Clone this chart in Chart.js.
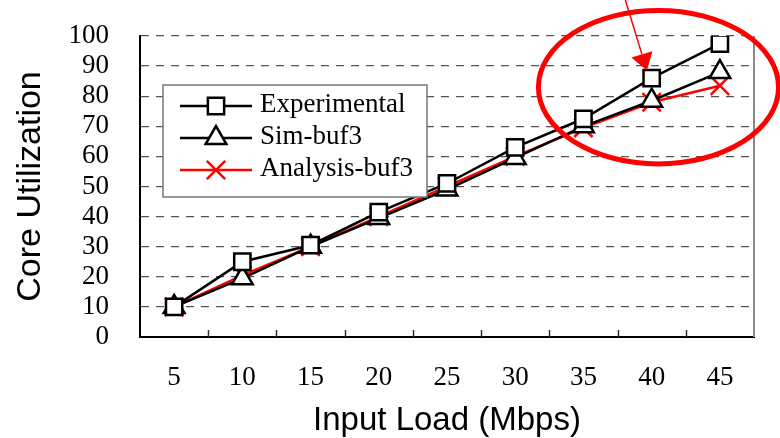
<!DOCTYPE html>
<html>
<head>
<meta charset="utf-8">
<script src="https://cdn.jsdelivr.net/npm/chart.js@4/dist/chart.umd.min.js"></script>
<style>
  html, body { margin: 0; padding: 0; background: #fff; }
  #wrap { width: 780px; height: 438px; position: relative; }
</style>
</head>
<body>
<div id="wrap"><canvas id="c" width="780" height="438"></canvas></div>
<script>
// ---- data ----
const categories = ['5', '10', '15', '20', '25', '30', '35', '40', '45'];
const experimental = [10, 25, 30.5, 41.5, 51, 63, 72.5, 86, 97.5];
const simBuf3 = [10, 19.5, 30, 39.5, 49, 59.5, 70, 78.5, 88];
const analysisBuf3 = [10, 20.5, 30, 40, 50, 60, 69.5, 78, 83.5];
const yTicks = [0, 10, 20, 30, 40, 50, 60, 70, 80, 90, 100];
const seriesNames = ['Experimental', 'Sim-buf3', 'Analysis-buf3'];

const SERIF = '"Liberation Serif", "Times New Roman", serif';
const SANS = '"Liberation Sans", Arial, sans-serif';

// inner tick marks, right border, legend and annotation
const decorPlugin = {
  id: 'decor',
  afterDraw(chart) {
    const ctx = chart.ctx;
    const ca = chart.chartArea;
    const xs = chart.scales.x, ys = chart.scales.y;
    ctx.save();
    // right border
    ctx.strokeStyle = '#888';
    ctx.lineWidth = 2;
    ctx.beginPath();
    ctx.moveTo(ca.right, ca.top);
    ctx.lineTo(ca.right, ca.bottom);
    ctx.stroke();
    // inner ticks at category boundaries
    ctx.strokeStyle = '#333';
    ctx.lineWidth = 1.5;
    for (let i = 1; i < categories.length; i++) {
      const x = Math.round((xs.getPixelForTick(i - 1) + xs.getPixelForTick(i)) / 2) + 0.5;
      ctx.beginPath();
      ctx.moveTo(x, ca.bottom);
      ctx.lineTo(x, ca.bottom - 7);
      ctx.stroke();
    }
    // legend
    const lx = ca.left + 23, ly = ca.top + 49;
    ctx.font = '27px ' + SERIF;
    let maxW = 0;
    seriesNames.forEach(n => { maxW = Math.max(maxW, ctx.measureText(n).width); });
    const boxW = 97 + maxW + 14, boxH = 112;
    ctx.fillStyle = '#fff';
    ctx.fillRect(lx, ly, boxW, boxH);
    ctx.strokeStyle = '#777';
    ctx.lineWidth = 1.5;
    ctx.strokeRect(lx, ly, boxW, boxH);
    chart.data.datasets.forEach((ds, i) => {
      const ry = ly + 21 + i * 32;
      ctx.strokeStyle = ds.borderColor;
      ctx.lineWidth = ds.borderWidth;
      ctx.beginPath();
      ctx.moveTo(lx + 17, ry);
      ctx.lineTo(lx + 89, ry);
      ctx.stroke();
      ctx.fillStyle = ds.pointBackgroundColor;
      ctx.strokeStyle = ds.pointBorderColor;
      ctx.lineWidth = ds.pointBorderWidth;
      Chart.helpers.drawPoint(ctx, {
        pointStyle: ds.pointStyle,
        radius: ds.pointRadius,
        borderWidth: ds.pointBorderWidth,
      }, lx + 53, ry);
      ctx.fillStyle = '#000';
      ctx.font = '27px ' + SERIF;
      ctx.textBaseline = 'middle';
      ctx.textAlign = 'left';
      ctx.fillText(seriesNames[i], lx + 97, ry - 1);
    });
    // annotation ellipse
    const step = xs.getPixelForTick(1) - xs.getPixelForTick(0);
    const unit = ys.getPixelForValue(0) - ys.getPixelForValue(1);
    const cx = xs.getPixelForTick(7) + 0.1 * step;
    const cy = ys.getPixelForValue(83);
    ctx.strokeStyle = '#ff0000';
    ctx.lineWidth = 5;
    ctx.beginPath();
    ctx.ellipse(cx, cy, 1.76 * step, 25.5 * unit, 0, 0, Math.PI * 2);
    ctx.stroke();
    // arrow
    const tipX = xs.getPixelForTick(7) - 0.07 * step;
    const tipY = ys.getPixelForValue(88.5);
    const sx = xs.getPixelForTick(7) - 0.4 * step;
    const sy = ys.getPixelForValue(113);
    const ang = Math.atan2(tipY - sy, tipX - sx);
    const hl = 17, hw = 11;
    const bx = tipX - hl * Math.cos(ang), by = tipY - hl * Math.sin(ang);
    ctx.lineWidth = 1.5;
    ctx.beginPath();
    ctx.moveTo(sx, sy);
    ctx.lineTo(bx, by);
    ctx.stroke();
    ctx.fillStyle = '#ff0000';
    ctx.beginPath();
    ctx.moveTo(tipX, tipY);
    ctx.lineTo(bx + hw * Math.sin(ang), by - hw * Math.cos(ang));
    ctx.lineTo(bx - hw * Math.sin(ang), by + hw * Math.cos(ang));
    ctx.closePath();
    ctx.fill();
    ctx.restore();
  }
};

new Chart(document.getElementById('c'), {
  type: 'line',
  data: {
    labels: categories,
    datasets: [
      {
        label: seriesNames[0], data: experimental,
        borderColor: '#000', borderWidth: 2.5,
        pointStyle: 'rect', pointRadius: 11.5,
        pointBackgroundColor: '#fff', pointBorderColor: '#000', pointBorderWidth: 2.5,
        tension: 0
      },
      {
        label: seriesNames[1], data: simBuf3,
        borderColor: '#000', borderWidth: 2.5,
        pointStyle: 'triangle', pointRadius: 12,
        pointBackgroundColor: '#fff', pointBorderColor: '#000', pointBorderWidth: 2.5,
        tension: 0
      },
      {
        label: seriesNames[2], data: analysisBuf3,
        borderColor: '#ff0000', borderWidth: 2.5,
        pointStyle: 'crossRot', pointRadius: 13,
        pointBackgroundColor: '#ff0000', pointBorderColor: '#ff0000', pointBorderWidth: 2.5,
        tension: 0
      }
    ]
  },
  options: {
    responsive: false,
    animation: false,
    events: [],
    layout: { padding: { top: 36, right: 26, left: 0, bottom: 0 } },
    plugins: { legend: { display: false }, tooltip: { enabled: false } },
    scales: {
      x: {
        type: 'category',
        offset: true,
        afterFit(s) { s.height = 101; s.paddingLeft = 0; s.paddingRight = 0; },
        grid: { display: true, drawOnChartArea: false, drawTicks: false, offset: true },
        border: { display: true, color: '#000', width: 2 },
        ticks: { color: '#000', font: { family: SERIF, size: 27 }, padding: 25, maxRotation: 0, autoSkip: false },
        title: { display: true, text: 'Input Load (Mbps)', color: '#000',
                 font: { family: SANS, size: 33, lineHeight: 1 }, padding: { top: 0, bottom: 1 } }
      },
      y: {
        min: 0, max: 100,
        afterFit(s) { s.width = 140; s.paddingTop = 0; s.paddingBottom = 0; },
        afterBuildTicks(s) { s.ticks = yTicks.map(v => ({ value: v })); },
        grid: {
          drawTicks: false,
          color: ctx => (ctx.tick && ctx.tick.value === 0) ? 'rgba(0,0,0,0)' : '#555',
          lineWidth: 1.3
        },
        border: { display: true, color: '#000', width: 2, dash: [8, 7] },
        ticks: { color: '#000', font: { family: SERIF, size: 27 }, padding: 31, stepSize: 10, autoSkip: false },
        title: { display: true, text: 'Core Utilization', color: '#000',
                 font: { family: SANS, size: 34, lineHeight: 1 }, padding: { top: 14, bottom: 0 } }
      }
    }
  },
  plugins: [decorPlugin]
});
</script>
</body>
</html>
